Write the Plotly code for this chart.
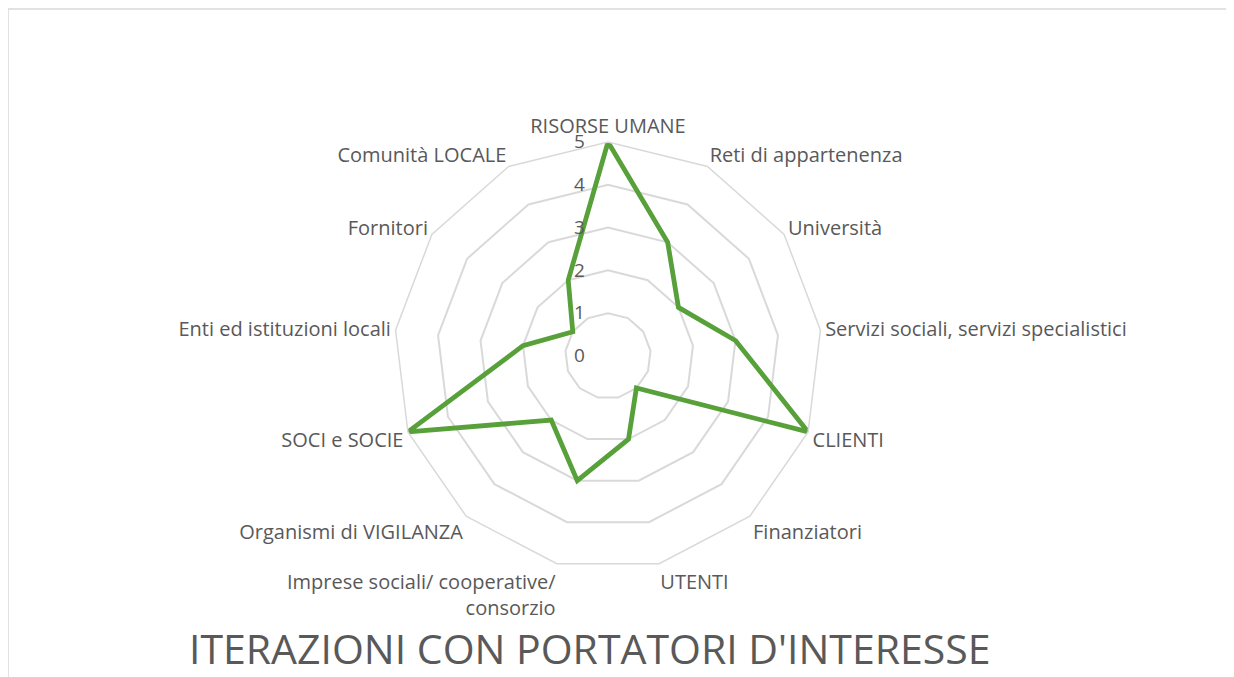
import plotly.graph_objects as go

categories = [
    "RISORSE UMANE",
    "Reti di appartenenza",
    "Università",
    "Servizi sociali, servizi specialistici",
    "CLIENTI",
    "Finanziatori",
    "UTENTI",
    "Imprese sociali/ cooperative/<br>consorzio",
    "Organismi di VIGILANZA",
    "SOCI e SOCIE",
    "Enti ed istituzioni locali",
    "Fornitori",
    "Comunità LOCALE",
]
values = [5, 3, 2, 3, 5, 1, 2, 3, 2, 5, 2, 1, 2]
radial_ticks = [0, 1, 2, 3, 4, 5]
title_text = "ITERAZIONI CON PORTATORI D'INTERESSE"

# page body has an 8px margin: figure occupies window minus that offset
OFF = 8
W, H = 1234 - OFF, 677 - OFF
cx, cy, R = 608 - OFF, 356 - OFF, 214

fig = go.Figure()
fig.add_trace(go.Scatterpolar(
    r=values + values[:1],
    theta=categories + categories[:1],
    mode="lines",
    line=dict(color="#58A03A", width=4.8),
    showlegend=False,
    hoverinfo="skip",
))

grid = "#d9d9d9"
text_col = "#595959"
fig.update_layout(
    width=W, height=H,
    margin=dict(l=0, r=0, t=0, b=0),
    paper_bgcolor="white",
    plot_bgcolor="white",
    font=dict(family="Open Sans", color=text_col),
    polar=dict(
        domain=dict(x=[(cx - R) / W, (cx + R) / W],
                    y=[(H - cy - R) / H, (H - cy + R) / H]),
        gridshape="linear",
        bgcolor="white",
        radialaxis=dict(
            range=[0, 5], tickvals=radial_ticks, ticktext=[str(t) for t in radial_ticks],
            showline=False, showgrid=True, gridcolor=grid, gridwidth=1.5,
            angle=90, tickangle=90, side="counterclockwise",
            ticks="outside", ticklen=16, tickcolor="rgba(0,0,0,0)",
            tickfont=dict(size=19, color=text_col),
        ),
        angularaxis=dict(
            categoryorder="array", categoryarray=categories,
            rotation=90, direction="clockwise",
            showgrid=False, showline=True, linecolor=grid, linewidth=1.5,
            ticks="", tickfont=dict(size=20, color=text_col),
        ),
    ),
    shapes=[dict(type="rect", xref="paper", yref="paper",
                 x0=0, x1=1.05, y0=-0.05, y1=1 - 1 / H,
                 line=dict(color=grid, width=1.5), layer="below")],
    annotations=[dict(text=title_text, xref="paper", yref="paper",
                      x=(590 - OFF) / W, y=1 - (648 - OFF) / H, xanchor="center", yanchor="middle",
                      showarrow=False, font=dict(size=41, color=text_col))],
)

fig.write_html("out.html")
